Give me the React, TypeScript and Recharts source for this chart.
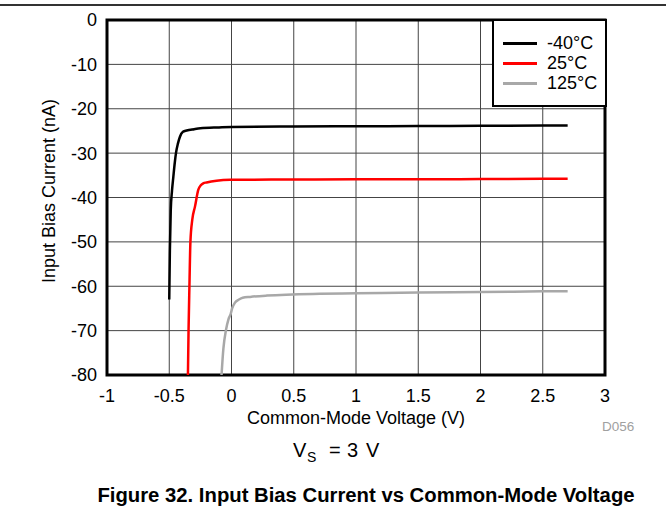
import {
  LineChart,
  Line,
  XAxis,
  YAxis,
  CartesianGrid,
  ReferenceArea,
} from 'recharts'

const xTicks = [-1, -0.5, 0, 0.5, 1, 1.5, 2, 2.5, 3]
const yTicks = [-80, -70, -60, -50, -40, -30, -20, -10, 0]

const coldV = [-0.5, -0.495, -0.488, -0.478, -0.467, -0.455, -0.446, -0.43, -0.414, -0.39, -0.36, -0.3, -0.25, -0.1, 0, 0.5, 1, 1.5, 2, 2.5, 2.7]
const coldI = [-63, -52, -43, -38.5, -35.3, -32, -30, -27.8, -26.3, -25.2, -24.9, -24.6, -24.4, -24.2, -24.1, -24.0, -23.95, -23.9, -23.85, -23.8, -23.8]

const roomV = [-0.35, -0.345, -0.338, -0.33, -0.315, -0.293, -0.267, -0.245, -0.227, -0.2, -0.12, -0.01, 0.5, 1, 1.5, 2, 2.5, 2.7]
const roomI = [-80, -70, -60, -50, -45, -42, -38.3, -37.2, -36.8, -36.6, -36.2, -36.0, -35.95, -35.9, -35.9, -35.85, -35.8, -35.8]

const hotV = [-0.08, -0.065, -0.044, -0.025, -0.006, 0.005, 0.028, 0.06, 0.09, 0.15, 0.285, 0.71, 1, 1.5, 2, 2.5, 2.7]
const hotI = [-80, -74, -69.8, -67.5, -66.2, -65, -63.7, -63, -62.6, -62.4, -62.1, -61.7, -61.6, -61.4, -61.3, -61.15, -61.1]

const toPoints = (xs: number[], ys: number[]) => xs.map((v, i) => ({ v, i: ys[i] }))

const series = [
  { name: '-40°C', color: '#000000', data: toPoints(coldV, coldI) },
  { name: '25°C', color: '#ff0000', data: toPoints(roomV, roomI) },
  { name: '125°C', color: '#a8a8a8', data: toPoints(hotV, hotI) },
]

const font = '"Liberation Sans", Arial, sans-serif'

function LegendBox() {
  return (
    <div
      style={{
        position: 'absolute',
        left: 492,
        top: 19,
        width: 111,
        height: 72,
        border: '2px solid #000',
        background: '#fff',
        fontFamily: font,
        fontSize: 18,
        paddingTop: 12,
      }}
    >
      {series.map((s) => (
        <div key={s.name} style={{ display: 'flex', alignItems: 'center', height: 20 }}>
          <div style={{ marginLeft: 9, width: 34, height: 3, background: s.color }} />
          <span style={{ marginLeft: 10, lineHeight: '20px' }}>{s.name}</span>
        </div>
      ))}
    </div>
  )
}

export default function App() {
  return (
    <div style={{ position: 'absolute', left: 0, top: 0, width: 666, height: 508, background: '#fff' }}>
      <div style={{ position: 'absolute', left: 0, top: 4, width: 666, height: 2, background: '#333' }} />
      <LineChart
        width={666}
        height={508}
        margin={{ top: 20, right: 61, left: 0, bottom: 103 }}
        style={{ fontFamily: font }}
      >
        <CartesianGrid stroke="#444" strokeWidth={1} horizontalValues={yTicks} verticalValues={xTicks} />
        <XAxis
          dataKey="v"
          type="number"
          domain={[-1, 3]}
          ticks={xTicks}
          interval={0}
          axisLine={false}
          tickLine={false}
          tickSize={6}
          tickMargin={8}
          height={30}
          tick={{ fill: '#000', fontSize: 18 }}
          label={{
            content: () => (
              <text x={356} y={424} textAnchor="middle" fontSize={18} fill="#000">
                Common-Mode Voltage (V)
              </text>
            ),
          }}
        />
        <YAxis
          dataKey="i"
          type="number"
          domain={[-80, 0]}
          ticks={yTicks}
          interval={0}
          width={107}
          axisLine={false}
          tickLine={false}
          tickSize={6}
          tickMargin={4}
          tick={{ fill: '#000', fontSize: 18 }}
          label={{
            content: () => (
              <text x={55} y={191} transform="rotate(-90 55 191)" textAnchor="middle" fontSize={18} fill="#000">
                Input Bias Current (nA)
              </text>
            ),
          }}
        />
        {series.map((s) => (
          <Line
            key={s.name}
            data={s.data}
            dataKey="i"
            name={s.name}
            type="monotone"
            stroke={s.color}
            strokeWidth={2.5}
            dot={false}
            isAnimationActive={false}
          />
        ))}
        <ReferenceArea x1={-1} x2={3} y1={-80} y2={0} fill="none" stroke="#000" strokeWidth={3} ifOverflow="visible" />
      </LineChart>
      <LegendBox />
      <svg
        width={666}
        height={508}
        style={{ position: 'absolute', left: 0, top: 0, pointerEvents: 'none', fontFamily: font }}
      >
        <text x={602} y={431} fontSize={13.5} fill="#a0a0a0">
          D056
        </text>
        <text x={293} y={457} fontSize={20} fill="#000">V</text>
        <text x={307} y={462} fontSize={14} fill="#000">S</text>
        <text x={329} y={457} fontSize={20} fill="#000">=</text>
        <text x={347} y={457} fontSize={20} fill="#000">3</text>
        <text x={366} y={457} fontSize={20} fill="#000">V</text>
        <text x={366} y={502} fontSize={20.3} fontWeight="bold" textAnchor="middle" fill="#000">
          Figure 32. Input Bias Current vs Common-Mode Voltage
        </text>
      </svg>
    </div>
  )
}
